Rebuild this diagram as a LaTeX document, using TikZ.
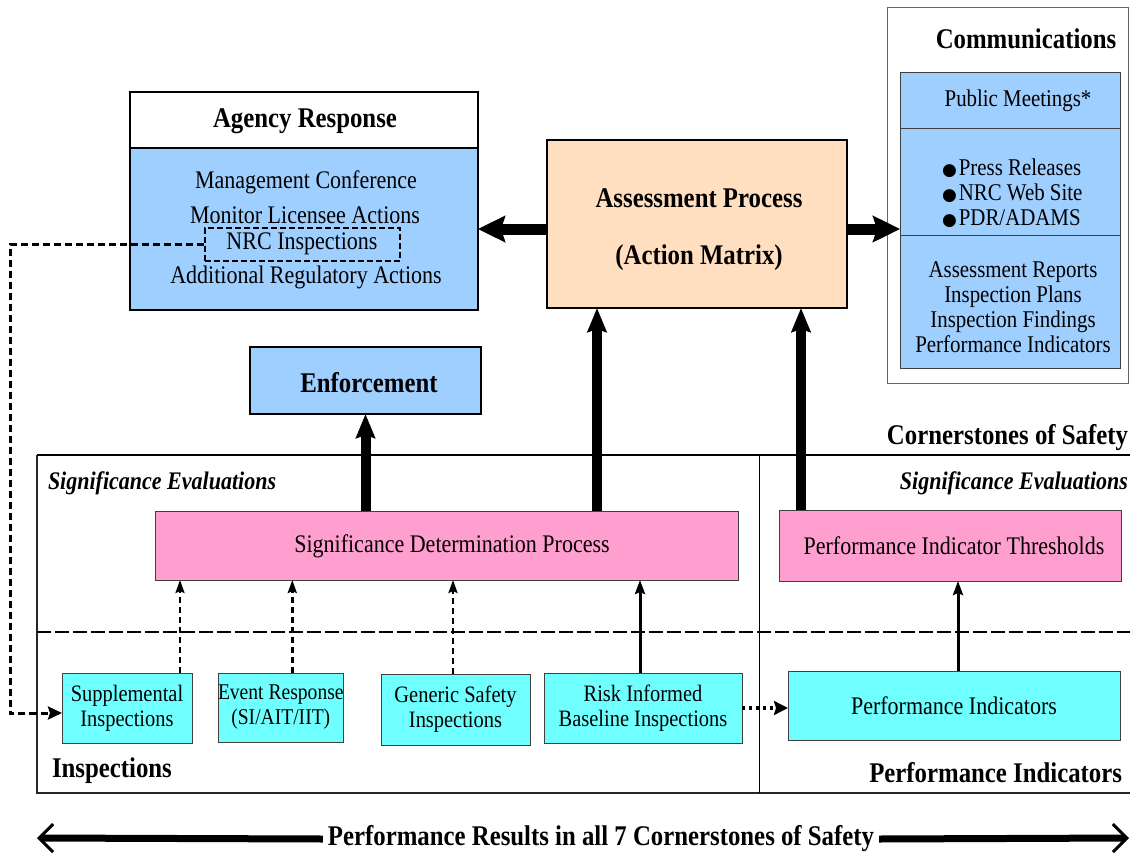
\documentclass[tikz,border=0pt]{standalone}
\usepackage{fontspec}
\setmainfont{Liberation Serif}[FakeStretch=0.87]
\newfontfamily\symfont{DejaVu Sans}
\usetikzlibrary{arrows.meta}
\definecolor{cblue}{HTML}{9FCFFF}
\definecolor{cpink}{HTML}{FF9FCF}
\definecolor{ccyan}{HTML}{70FFFF}
\definecolor{cpeach}{HTML}{FFDFC0}
\newcommand{\hdf}{\fontsize{28.5}{32}\selectfont\bfseries}
\newcommand{\rmf}{\fontsize{25.3}{29}\selectfont}
\newcommand{\smf}{\fontsize{23.5}{25}\selectfont}
\newcommand{\cmf}{\fontsize{24}{25}\selectfont}
\newcommand{\sef}{\fontsize{25.3}{29}\selectfont\bfseries\itshape}
\newcommand{\bul}{{\symfont\fontsize{17}{17}\selectfont ●}\hspace{2pt}}
\begin{document}
\begin{tikzpicture}[x=1pt,y=-1pt,
  box/.style={draw, anchor=north west, inner sep=0pt, outer sep=0pt},
  bluebox/.style={box, fill=cblue, line width=1.6pt},
  pinkbox/.style={box, fill=cpink, draw=black!75, line width=1pt},
  cyanbox/.style={box, fill=ccyan, draw=black!75, line width=1pt, align=center, font=\smf},
  txt/.style={inner sep=0pt, outer sep=0pt},
  bigarrow/.style={line width=11pt, -{Stealth[length=27pt,width=26pt,inset=4pt]}},
  bigup/.style={line width=10pt, -{Stealth[length=24pt,width=19pt,inset=3pt]}},
  smalldash/.style={line width=2.5pt, dash pattern=on 6pt off 4pt, -{Stealth[length=13pt,width=9pt,inset=2pt]}},
  smallsolid/.style={line width=3pt, -{Stealth[length=14pt,width=10pt,inset=2pt]}},
  nrcline/.style={line width=3pt, dash pattern=on 7pt off 4pt, -{Stealth[length=14pt,width=13pt,inset=2pt]}},
  dotline/.style={line width=3.5pt, dash pattern=on 3pt off 4pt, -{Stealth[length=14pt,width=14pt,inset=2pt]}},
  botarrow/.style={line width=7pt, -{Straight Barb[length=14pt,width=28pt,line width=3pt]}}
]
\useasboundingbox (0,0) rectangle (1130,854);

% ---------- Communications ----------
\node[box, draw=black!60, line width=1pt, minimum width=241, minimum height=376] (comm) at (887,7) {};
\node[txt, font=\hdf] (commt) at (1026,39) {Communications};
\node[box, fill=cblue, draw=black!75, line width=1pt, minimum width=220, minimum height=56] (cm1) at (900,72) {};
\node[box, fill=cblue, draw=black!75, line width=1pt, minimum width=220, minimum height=107] (cm2) at (900,128) {};
\node[box, fill=cblue, draw=black!75, line width=1pt, minimum width=220, minimum height=133] (cm3) at (900,235) {};
\node[txt, font=\cmf] (pm) at (1018,101) {Public Meetings*};
\node[txt, font=\cmf, align=left, anchor=west] (bl) at (942,193) {\bul Press Releases\\ \bul NRC Web Site\\ \bul PDR/ADAMS};
\node[txt, font=\cmf, align=center] (ar) at (1013,307) {Assessment Reports\\ Inspection Plans\\ Inspection Findings\\ Performance Indicators};

% ---------- Agency Response ----------
\node[box, fill=white, line width=2pt, minimum width=348, minimum height=56] (agh) at (130,92) {};
\node[txt, font=\hdf] (aght) at (305,121) {Agency Response};
\node[bluebox, line width=2pt, minimum width=348, minimum height=162] (agb) at (130,148) {};
\node[txt, font=\rmf] (mc) at (306,182) {Management Conference};
\node[txt, font=\rmf] (ml) at (305,215) {Monitor Licensee Actions};
\node[draw, line width=2pt, dash pattern=on 6pt off 3pt, inner sep=0pt, minimum width=195, minimum height=33, font=\rmf] (nrc) at (302,244) {NRC Inspections};
\node[txt, font=\rmf] (ara) at (306,277) {Additional Regulatory Actions};

% ---------- Assessment ----------
\node[box, fill=cpeach, line width=2.5pt, minimum width=300, minimum height=168] (ap) at (547,140) {};
\node[txt, font=\hdf] (apt1) at (699,198) {Assessment Process};
\node[txt, font=\hdf] (apt2) at (699,258) {(Action Matrix)};

% ---------- Enforcement ----------
\node[bluebox, line width=2pt, minimum width=231, minimum height=67] (enf) at (250,347) {};
\node[txt, font=\hdf] (enft) at (369,383) {Enforcement};

% ---------- Cornerstones frame ----------
\node[txt, font=\hdf, anchor=east] (cst) at (1128,438) {Cornerstones of Safety};
\draw[line width=1.5pt, black!85] (1130,793) -- (37,793) -- (37,455);
\draw[line width=2.5pt] (37,455) -- (1130,455);
\draw[line width=1pt] (759,455) -- (759,793);
\draw[line width=1.5pt, dash pattern=on 14pt off 4pt] (37,632) -- (1130,632);
\node[txt, font=\sef, anchor=west] (se1) at (48,483) {Significance Evaluations};
\node[txt, font=\sef, anchor=east] (se2) at (1128,483) {Significance Evaluations};
\node[txt, font=\hdf, anchor=west] (insp) at (52,771) {Inspections};
\node[txt, font=\hdf, anchor=east] (pil) at (1122,773) {Performance Indicators};

% pink boxes
\node[pinkbox, minimum width=583, minimum height=69] (sdp) at (155,511) {};
\node[txt, font=\rmf] (sdpt) at (452,546) {Significance Determination Process};
\node[pinkbox, minimum width=342, minimum height=71] (pit) at (779,510) {};
\node[txt, font=\rmf] (pitt) at (954,546) {Performance Indicator Thresholds};

% cyan boxes
\node[cyanbox, minimum width=130, minimum height=70] (supp) at (62,673) {Supplemental\\Inspections};
\node[cyanbox, minimum width=125, minimum height=69, font=\fontsize{22.5}{25}\selectfont] (evt) at (218,673) {Event Response\\(SI/AIT/IIT)};
\node[cyanbox, minimum width=149, minimum height=71] (gen) at (381,674) {Generic Safety\\Inspections};
\node[cyanbox, minimum width=198, minimum height=70] (risk) at (544,673) {Risk Informed\\Baseline Inspections};
\node[cyanbox, minimum width=332, minimum height=69, font=\rmf] (pi) at (788,671) {Performance Indicators};

% ---------- Connectors ----------
\draw[bigarrow] (ap.west |- agb.east) -- (agb.east);
\draw[bigarrow] (ap.east |- agb.east) -- (cm2.west |- agb.east);
\draw[bigup] (enf.south |- sdp.north) -- (enf.south);
\draw[bigup] ([xshift=-100pt]ap.south |- sdp.north) -- ([xshift=-100pt]ap.south);
\draw[bigup] ([xshift=104pt]ap.south |- pit.north) -- ([xshift=104pt]ap.south);

\draw[smalldash] ([xshift=53pt]supp.north) -- ([xshift=53pt]supp.north |- sdp.south);
\draw[smalldash] ([xshift=11.5pt]evt.north) -- ([xshift=11.5pt]evt.north |- sdp.south);
\draw[smalldash] ([xshift=-2.5pt]gen.north) -- ([xshift=-2.5pt]gen.north |- sdp.south);
\draw[smallsolid] ([xshift=-3pt]risk.north) -- ([xshift=-3pt]risk.north |- sdp.south);
\draw[smallsolid] ([xshift=4pt]pi.north) -- ([xshift=4pt]pi.north |- pit.south);

\draw[dotline] (risk.east) -- (pi.west |- risk.east);

\coordinate (nc) at (10,713);
\draw[nrcline] (nrc.west) -| (nc) -- (supp.west |- nc);

% ---------- Bottom ----------
\node[txt, font=\hdf, inner sep=5pt] (res) at (601,839) {Performance Results in all 7 Cornerstones of Safety};
\coordinate (la) at (37,838);
\coordinate (ra) at (1129,838);
\draw[botarrow] (res.west) -- (la);
\draw[botarrow] (res.east) -- (ra);
\end{tikzpicture}
\end{document}
